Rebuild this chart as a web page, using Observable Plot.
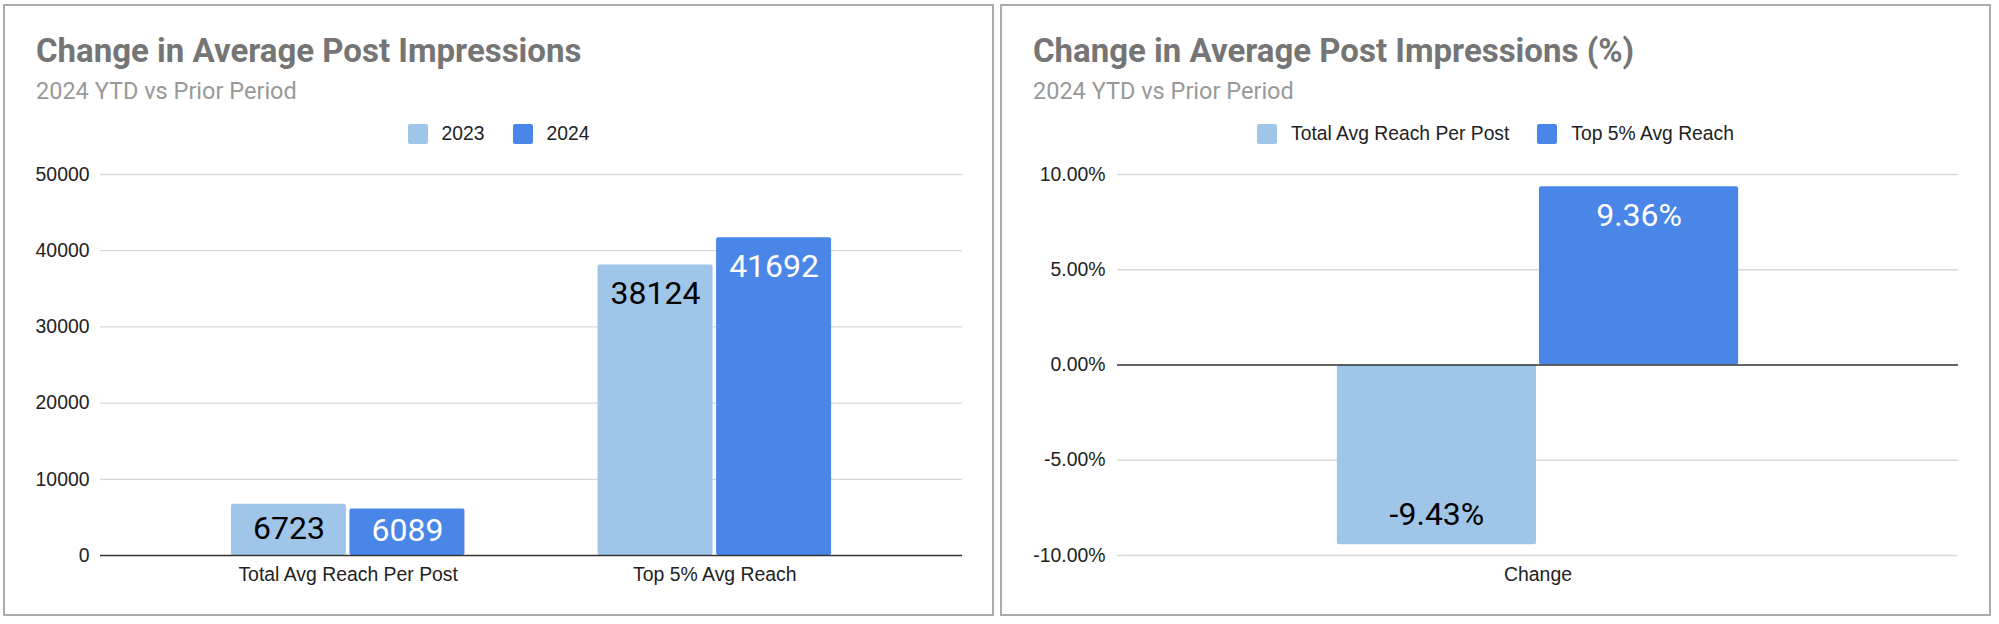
<!DOCTYPE html>
<html>
<head>
<meta charset="utf-8">
<script src="https://cdn.jsdelivr.net/npm/d3@7"></script>
<script src="https://cdn.jsdelivr.net/npm/@observablehq/plot@0.6"></script>
<style>
  html, body { margin: 0; padding: 0; background: #fff; }
  body { width: 1999px; height: 624px; position: relative; overflow: hidden; }
  .panel { position: absolute; top: 4px; width: 991px; height: 612px; border: 2px solid #ababab; box-sizing: border-box; }
  .title { position: absolute; font-family: Roboto, sans-serif; font-weight: 700; font-size: 33px; line-height: 33px; color: #757575; white-space: nowrap; }
  .subtitle { position: absolute; font-family: Roboto, sans-serif; font-weight: 400; font-size: 23.5px; line-height: 23.5px; color: #999999; white-space: nowrap; }
  .legend { position: absolute; top: 124px; width: 991px; display: flex; justify-content: center; align-items: flex-start; }
  .legend .item { display: flex; align-items: flex-start; }
  .legend .item + .item { margin-left: 28px; }
  .legend .sw { width: 20px; height: 20px; border-radius: 2px; margin-right: 14px; }
  .legend .lab { font-family: "Liberation Sans", Arial, sans-serif; font-size: 19.3px; line-height: 19.3px; color: #222; white-space: nowrap; }
  .chart { position: absolute; top: 150px; }
</style>
</head>
<body>
<script>
// ---------- data ----------
const categories = ["Total Avg Reach Per Post", "Top 5% Avg Reach"];
const years = ["2023", "2024"];
const values2023 = [6723, 38124];
const values2024 = [6089, 41692];
const yTicksLeft = [0, 10000, 20000, 30000, 40000, 50000];

const changeCategory = ["Change"];
const changeSeries = ["Total Avg Reach Per Post", "Top 5% Avg Reach"];
const changeValues = [-9.43, 9.36];
const yTicksRight = [-10, -5, 0, 5, 10];

const leftTitle = "Change in Average Post Impressions";
const rightTitle = "Change in Average Post Impressions (%)";
const subtitleText = "2024 YTD vs Prior Period";

// ---------- styles ----------
const lightBlue = "#9fc5e8";
const darkBlue = "#4a86e8";
const gridColor = "#d9d9d9";
const baseColor = "#333333";
const tickFont = "'Liberation Sans', Arial, sans-serif";
const labelFont = "Roboto, sans-serif";

function addPanel(left, title, legendLabels) {
  const p = document.createElement("div");
  p.className = "panel";
  p.style.left = left + "px";
  document.body.appendChild(p);

  const t = document.createElement("div");
  t.className = "title";
  t.textContent = title;
  t.style.left = (left + 33) + "px";
  t.style.top = (61.7 - 0.8418 * 33) + "px";
  document.body.appendChild(t);

  const s = document.createElement("div");
  s.className = "subtitle";
  s.textContent = subtitleText;
  s.style.left = (left + 33) + "px";
  s.style.top = (100 - 0.8418 * 23.5) + "px";
  document.body.appendChild(s);

  const lg = document.createElement("div");
  lg.className = "legend";
  lg.style.left = left + "px";
  legendLabels.forEach((lab, i) => {
    const it = document.createElement("div");
    it.className = "item";
    const sw = document.createElement("div");
    sw.className = "sw";
    sw.style.background = [lightBlue, darkBlue][i];
    const tx = document.createElement("div");
    tx.className = "lab";
    tx.textContent = lab;
    it.appendChild(sw); it.appendChild(tx);
    lg.appendChild(it);
  });
  document.body.appendChild(lg);
}

function bandwidth(domain, range, pi, po) {
  return d3.scaleBand(domain, range).paddingInner(pi).paddingOuter(po).bandwidth();
}

// ---------- left chart ----------
addPanel(3, leftTitle, years);
{
  const W = 994, H = 450, mL = 100, mR = 32, mT = 24, mB = 45;
  const pi = 0.363, po = 0.357, gap = 3.5;
  const bw = bandwidth(categories, [mL, W - mR], pi, po);
  const inset = bw / 2 + gap / 2;
  const rows2023 = categories.map((c, i) => ({category: c, value: values2023[i]}));
  const rows2024 = categories.map((c, i) => ({category: c, value: values2024[i]}));
  const tall = d => d.value > 20000;
  const short = d => !tall(d);
  const lab = (rows, color, dx) => [
    Plot.text(rows.filter(tall), {x: "category", y: "value", text: d => String(d.value), fill: color, dx, dy: 39, lineAnchor: "bottom", fontFamily: labelFont, fontSize: 32}),
    Plot.text(rows.filter(short), {x: "category", y: d => d.value / 2, text: d => String(d.value), fill: color, dx, dy: 9, lineAnchor: "bottom", fontFamily: labelFont, fontSize: 32})
  ];
  const svg = Plot.plot({
    width: W, height: H,
    marginLeft: mL, marginRight: mR, marginTop: mT, marginBottom: mB,
    style: {background: "transparent", fontFamily: tickFont, fontSize: "19.4px", color: "#222", overflow: "visible"},
    x: {domain: categories, paddingInner: pi, paddingOuter: po, round: false, label: null, tickSize: 0, tickPadding: 12},
    y: {domain: [0, 50000], ticks: yTicksLeft, tickFormat: d => String(d), label: null, tickSize: 0, tickPadding: 11},
    marks: [
      Plot.ruleY(yTicksLeft.filter(d => d !== 0), {stroke: gridColor, strokeWidth: 1.3}),
      Plot.barY(rows2023, {x: "category", y1: 0, y2: "value", fill: lightBlue, insetRight: inset, rx: 2}),
      Plot.barY(rows2024, {x: "category", y1: 0, y2: "value", fill: darkBlue, insetLeft: inset, rx: 2}),
      Plot.ruleY([0], {stroke: baseColor, strokeWidth: 1.6}),
      ...lab(rows2023, "#000000", -inset / 2),
      ...lab(rows2024, "#ffffff", inset / 2)
    ]
  });
  const div = document.createElement("div");
  div.className = "chart";
  div.style.left = "0px";
  div.style.width = W + "px";
  div.appendChild(svg);
  document.body.appendChild(div);
}

// ---------- right chart ----------
addPanel(1000, rightTitle, changeSeries);
{
  const W = 991, H = 450, mL = 117, mR = 33, mT = 24, mB = 45;
  const p = 0.354, gap = 3;
  const bw = bandwidth(changeCategory, [mL, W - mR], p, p);
  const inset = bw / 2 + gap / 2;
  const rows = changeSeries.map((s, i) => ({category: changeCategory[0], series: s, value: changeValues[i]}));
  const fmt = d => d.toFixed(2) + "%";
  const svg = Plot.plot({
    width: W, height: H,
    marginLeft: mL, marginRight: mR, marginTop: mT, marginBottom: mB,
    style: {background: "transparent", fontFamily: tickFont, fontSize: "19.4px", color: "#222", overflow: "visible"},
    x: {domain: changeCategory, padding: p, round: false, label: null, tickSize: 0, tickPadding: 12},
    y: {domain: [-10, 10], ticks: yTicksRight, tickFormat: fmt, label: null, tickSize: 0, tickPadding: 12},
    marks: [
      Plot.ruleY(yTicksRight.filter(d => d !== 0), {stroke: gridColor, strokeWidth: 1.3}),
      Plot.barY(rows.slice(0, 1), {x: "category", y1: 0, y2: "value", fill: lightBlue, insetRight: inset, rx: 2}),
      Plot.barY(rows.slice(1, 2), {x: "category", y1: 0, y2: "value", fill: darkBlue, insetLeft: inset, rx: 2}),
      Plot.ruleY([0], {stroke: baseColor, strokeWidth: 1.6}),
      Plot.text(rows.slice(0, 1), {x: "category", y: "value", text: d => fmt(d.value), fill: "#000000", dx: -inset / 2, dy: -20, lineAnchor: "bottom", fontFamily: labelFont, fontSize: 32}),
      Plot.text(rows.slice(1, 2), {x: "category", y: "value", text: d => fmt(d.value), fill: "#ffffff", dx: inset / 2, dy: 39, lineAnchor: "bottom", fontFamily: labelFont, fontSize: 32})
    ]
  });
  const div = document.createElement("div");
  div.className = "chart";
  div.style.left = "1000px";
  div.style.width = W + "px";
  div.appendChild(svg);
  document.body.appendChild(div);
}
</script>
</body>
</html>
